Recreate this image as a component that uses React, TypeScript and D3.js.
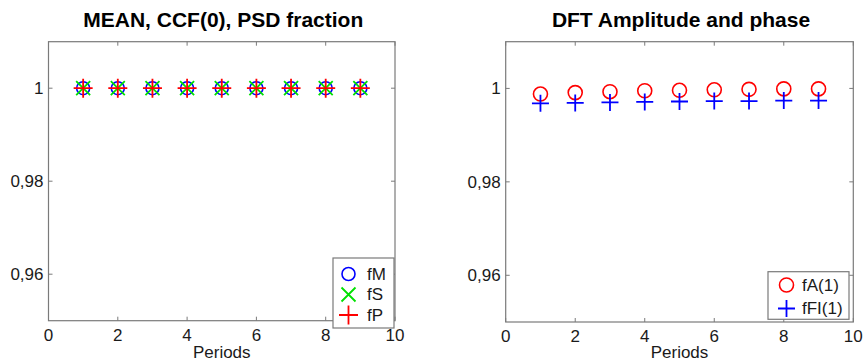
import { useRef, useEffect } from "react";
import * as d3 from "d3";

// periods on the x axis
const periods = [1, 2, 3, 4, 5, 6, 7, 8, 9];

// left panel: MEAN, CCF(0), PSD fraction
const fM = [1, 1, 1, 1, 1, 1, 1, 1, 1];
const fS = [1, 1, 1, 1, 1, 1, 1, 1, 1];
const fP = [1, 1, 1, 1, 1, 1, 1, 1, 1];

// right panel: DFT amplitude and phase
const fA1 = [0.9988, 0.9991, 0.9993, 0.9995, 0.9996, 0.9997, 0.9998, 0.9999, 0.9999];
const fFI1 = [0.9968, 0.9969, 0.997, 0.9971, 0.9972, 0.9973, 0.9973, 0.9974, 0.9974];

const xTicks = [0, 2, 4, 6, 8, 10];
const yTicks = [0.96, 0.98, 1];
const yTickLabels = ["0,96", "0,98", "1"];

const FONT = "'Liberation Sans', Arial, Helvetica, sans-serif";
const AXIS = "#7a7a7a";

type Marker = "circle" | "x" | "plus";
interface Series { name: string; values: number[]; marker: Marker; color: string; size: number; }

interface Panel {
  title: string;
  left: number; right: number; top: number; bottom: number;
  series: Series[];
  legend: { x: number; y: number; w: number; h: number; rowY: number[]; markX: number; textX: number };
}

const panels: Panel[] = [
  {
    title: "MEAN, CCF(0), PSD fraction",
    left: 48.5, right: 395, top: 41.7, bottom: 320.7,
    series: [
      { name: "fM", values: fM, marker: "circle", color: "#0000ff", size: 6.5 },
      { name: "fS", values: fS, marker: "x", color: "#00e000", size: 7 },
      { name: "fP", values: fP, marker: "plus", color: "#ff0000", size: 9.5 },
    ],
    legend: { x: 333, y: 258, w: 61, h: 70, rowY: [274, 294.5, 315], markX: 348.5, textX: 367 },
  },
  {
    title: "DFT Amplitude and phase",
    left: 505.7, right: 853.3, top: 41.7, bottom: 322,
    series: [
      { name: "fA(1)", values: fA1, marker: "circle", color: "#ff0000", size: 7 },
      { name: "fFI(1)", values: fFI1, marker: "plus", color: "#0000ff", size: 8.5 },
    ],
    legend: { x: 768, y: 271.7, w: 81, h: 47.6, rowY: [285, 308.5], markX: 786.5, textX: 802 },
  },
];

function drawMarker(g: d3.Selection<SVGGElement, unknown, null, undefined>, m: Marker, cx: number, cy: number, s: number, color: string) {
  if (m === "circle") {
    g.append("circle").attr("cx", cx).attr("cy", cy).attr("r", s)
      .attr("fill", "none").attr("stroke", color).attr("stroke-width", 1.6);
  } else if (m === "plus") {
    g.append("path").attr("d", `M${cx - s},${cy}H${cx + s}M${cx},${cy - s}V${cy + s}`)
      .attr("stroke", color).attr("stroke-width", 1.8).attr("fill", "none");
  } else {
    g.append("path").attr("d", `M${cx - s},${cy - s}L${cx + s},${cy + s}M${cx - s},${cy + s}L${cx + s},${cy - s}`)
      .attr("stroke", color).attr("stroke-width", 1.8).attr("fill", "none");
  }
}

export default function App() {
  const svgRef = useRef<SVGSVGElement>(null);

  useEffect(() => {
    if (!svgRef.current) return;
    const svg = d3.select(svgRef.current);
    svg.selectAll("*").remove();

    panels.forEach(p => {
      const x = d3.scaleLinear().domain([0, 10]).range([p.left, p.right]);
      const y = d3.scaleLinear().domain([0.95, 1.01]).range([p.bottom, p.top]);
      const g = svg.append("g");

      // axes box
      g.append("rect").attr("x", p.left).attr("y", p.top)
        .attr("width", p.right - p.left).attr("height", p.bottom - p.top)
        .attr("fill", "#fff").attr("stroke", AXIS).attr("stroke-width", 1.2);

      // ticks, inward on all four sides
      const tl = 4;
      xTicks.forEach(t => {
        g.append("path").attr("d", `M${x(t)},${p.bottom}v${-tl}M${x(t)},${p.top}v${tl}`)
          .attr("stroke", AXIS).attr("stroke-width", 1);
        g.append("text").attr("x", x(t)).attr("y", p.bottom + 20)
          .attr("text-anchor", "middle").attr("font-size", 17).attr("fill", "#1a1a1a").text(t);
      });
      yTicks.forEach((t, i) => {
        g.append("path").attr("d", `M${p.left},${y(t)}h${tl}M${p.right},${y(t)}h${-tl}`)
          .attr("stroke", AXIS).attr("stroke-width", 1);
        g.append("text").attr("x", p.left - 5).attr("y", y(t)).attr("dy", "0.35em")
          .attr("text-anchor", "end").attr("font-size", 17).attr("fill", "#1a1a1a").text(yTickLabels[i]);
      });

      // title & x label
      const cx = (p.left + p.right) / 2;
      g.append("text").attr("x", cx + 1.5).attr("y", 27).attr("text-anchor", "middle")
        .attr("font-size", 21).attr("font-weight", "bold").attr("fill", "#000").text(p.title);
      g.append("text").attr("x", cx).attr("y", 358).attr("text-anchor", "middle")
        .attr("font-size", 17).attr("fill", "#1a1a1a").text("Periods");

      // markers
      p.series.forEach(s => {
        s.values.forEach((v, i) => drawMarker(g, s.marker, x(periods[i]), y(v), s.size, s.color));
      });

      // legend
      const L = p.legend;
      g.append("rect").attr("x", L.x).attr("y", L.y).attr("width", L.w).attr("height", L.h)
        .attr("fill", "#fff").attr("stroke", AXIS).attr("stroke-width", 1.2);
      p.series.forEach((s, i) => {
        drawMarker(g, s.marker, L.markX, L.rowY[i], s.size, s.color);
        g.append("text").attr("x", L.textX).attr("y", L.rowY[i]).attr("dy", "0.35em")
          .attr("font-size", 17).attr("fill", "#1a1a1a").text(s.name);
      });
    });
  }, []);

  return (
    <svg ref={svgRef} width={863} height={362} fontFamily={FONT}
      style={{ position: "absolute", left: 0, top: 0, background: "#fff" }} />
  );
}
